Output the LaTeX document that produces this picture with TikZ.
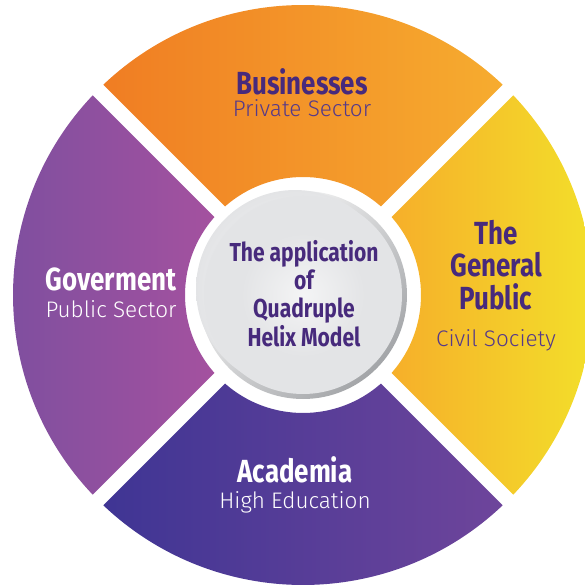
\documentclass[tikz,border=0pt]{standalone}
\usepackage{fontspec}
\newfontfamily\headfont{Fira Sans}[FakeStretch=0.81]
\newfontfamily\lightfont{Fira Sans Light}
\definecolor{orA}{HTML}{F07D23}
\definecolor{orB}{HTML}{F6AC2F}
\definecolor{yeA}{HTML}{F6AF2A}
\definecolor{yeB}{HTML}{F2E52A}
\definecolor{puA}{HTML}{7B4F9F}
\definecolor{puB}{HTML}{A4519F}
\definecolor{acA}{HTML}{3F3594}
\definecolor{acB}{HTML}{6E459B}
\definecolor{headtxt}{HTML}{472A7C}
\definecolor{subtxt}{HTML}{55398A}
\definecolor{rimdark}{HTML}{A3A5A8}
\definecolor{discgrey}{HTML}{E3E4E6}
\begin{document}
\begin{tikzpicture}[x=1pt,y=1pt,
  head/.style={anchor=base,inner sep=0pt,font=\headfont\bfseries\fontsize{32}{32}\selectfont},
  sub/.style={anchor=base,inner sep=0pt,font=\lightfont\fontsize{22.5}{22.5}\selectfont},
  ctr/.style={anchor=base,inner sep=0pt,text=headtxt,font=\headfont\bfseries\fontsize{26}{26}\selectfont}]
\useasboundingbox (-303,-290) rectangle (282,295);
\clip (-303,-290) rectangle (282,295);
% sectors
\shade[left color=orA,right color=orB]
  (46.48:290) arc[start angle=46.48,end angle=133.52,radius=290]
  -- (131.36:118) arc[start angle=131.36,end angle=48.64,radius=118] -- cycle;
\shade[left color=yeA,right color=yeB]
  (-43.52:290) arc[start angle=-43.52,end angle=43.52,radius=290]
  -- (41.36:118) arc[start angle=41.36,end angle=-41.36,radius=118] -- cycle;
\shade[left color=acA,right color=acB]
  (226.48:290) arc[start angle=226.48,end angle=313.52,radius=290]
  -- (311.36:118) arc[start angle=311.36,end angle=228.64,radius=118] -- cycle;
\shade[left color=puA,right color=puB]
  (136.48:290) arc[start angle=136.48,end angle=223.52,radius=290]
  -- (221.36:118) arc[start angle=221.36,end angle=138.64,radius=118] -- cycle;
% centre disc
\shade[top color=white,bottom color=rimdark,shading angle=45] (0,0) circle (104);
\shade[inner color=white,outer color=discgrey] (-8,6) circle (99);
\fill[discgrey,even odd rule] (0,0) circle (99) (0,0) circle (60);
\shade[inner color=white!60!discgrey,outer color=discgrey] (0,0) circle (62);
% labels
\node[head,text=headtxt] (bus) at (-1,200) {Businesses};
\node[sub,text=subtxt] (busSub) at (-1,178) {Private Sector};
\node[head,text=white] (gov) at (-192,4) {Goverment};
\node[sub,text=white] (govSub) at (-192,-23) {Public Sector};
\node[head,text=headtxt] (gp1) at (193,50) {The};
\node[head,text=headtxt] (gp2) at (193,18) {General};
\node[head,text=headtxt] (gp3) at (193,-15) {Public};
\node[sub,text=subtxt] (gpSub) at (193,-52) {Civil Society};
\node[head,text=white] (aca) at (-8,-187) {Academia};
\node[sub,text=white] (acaSub) at (-8,-213) {High Education};
\node[ctr] (c1) at (1,33) {The application};
\node[ctr] (c2) at (1,5) {of};
\node[ctr] (c3) at (1,-23) {Quadruple};
\node[ctr] (c4) at (1,-52) {Helix Model};
\end{tikzpicture}
\end{document}
